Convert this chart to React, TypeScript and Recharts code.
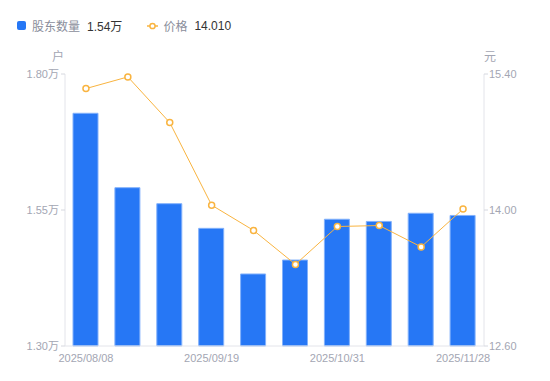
import {
  ComposedChart,
  Bar,
  Line,
  XAxis,
  YAxis,
  Legend,
} from 'recharts';

const dates = [
  '2025/08/08',
  '2025/08/22',
  '2025/09/05',
  '2025/09/19',
  '2025/09/30',
  '2025/10/17',
  '2025/10/31',
  '2025/11/10',
  '2025/11/20',
  '2025/11/28',
];
// 股东数量 (户)
const holders = [17278, 15910, 15616, 15163, 14324, 14580, 15330, 15290, 15440, 15400];
// 价格 (元)
const prices = [15.25, 15.37, 14.9, 14.05, 13.79, 13.44, 13.83, 13.84, 13.62, 14.01];

const leftTicks = [13000, 15500, 18000];
const rightTicks = [12.6, 14.0, 15.4];

const data = dates.map((d, i) => ({ date: d, holders: holders[i], price: prices[i] }));

const BLUE = '#2677f5';
const ORANGE = '#f9b440';
const FONT = '"Liberation Sans", "Noto Sans CJK SC", sans-serif';

const fmtWan = (v: number) => (v / 10000).toFixed(2) + '万';

const LegendBox = () => {
  const last = data[data.length - 1];
  return (
    <div style={{ display: 'flex', alignItems: 'center', fontSize: 12, fontFamily: FONT }}>
      <span style={{ width: 9, height: 9, background: BLUE, borderRadius: 2, marginRight: 6 }} />
      <span style={{ color: '#8a8e9b' }}>股东数量</span>
      <span style={{ color: '#333', marginLeft: 7 }}>{fmtWan(last.holders)}</span>
      <svg width={11} height={10} style={{ marginLeft: 25, marginRight: 5 }}>
        <line x1={0} y1={5} x2={11} y2={5} stroke={ORANGE} strokeWidth={1.5} />
        <circle cx={5.5} cy={5} r={2.6} fill="#fff" stroke={ORANGE} strokeWidth={1.5} />
      </svg>
      <span style={{ color: '#8a8e9b' }}>价格</span>
      <span style={{ color: '#333', marginLeft: 7 }}>{last.price.toFixed(3)}</span>
    </div>
  );
};

const App = () => {
  return (
    <div style={{ position: 'absolute', left: 0, top: 0 }}>
      <ComposedChart
        width={550}
        height={381}
        data={data}
        margin={{ top: 74, right: 8, bottom: 5, left: 5 }}
        barSize={25}
      >
        <Legend
          verticalAlign="middle"
          align="center"
          content={() => <LegendBox />}
          wrapperStyle={{ top: 17, left: 17, width: 300 }}
        />
        <XAxis
          dataKey="date"
          interval={2}
          height={30}
          tickLine={false}
          tickSize={6}
          axisLine={{ stroke: '#e3e4ea' }}
          tick={{ fill: '#a3a6b3', fontSize: 11, fontFamily: FONT }}
        />
        <YAxis
          yAxisId="left"
          width={60}
          domain={[13000, 18000]}
          ticks={leftTicks}
          tickFormatter={fmtWan}
          tickSize={4}
          tickMargin={2}
          axisLine={{ stroke: '#e3e4ea' }}
          tickLine={{ stroke: '#d6d8df' }}
          tick={{ fill: '#a3a6b3', fontSize: 11, fontFamily: FONT }}
          label={{
            content: ({ viewBox }: any) => (
              <text
                x={viewBox.x + viewBox.width - 7}
                y={viewBox.y - 13}
                textAnchor="middle"
                fill="#a3a6b3"
                fontSize={12}
                fontFamily={FONT}
              >
                户
              </text>
            ),
          }}
        />
        <YAxis
          yAxisId="right"
          orientation="right"
          width={58}
          domain={[12.6, 15.4]}
          ticks={rightTicks}
          tickFormatter={(v: number) => v.toFixed(2)}
          tickSize={4}
          tickMargin={1}
          axisLine={{ stroke: '#e3e4ea' }}
          tickLine={{ stroke: '#d6d8df' }}
          tick={{ fill: '#a3a6b3', fontSize: 11, fontFamily: FONT }}
          label={{
            content: ({ viewBox }: any) => (
              <text
                x={viewBox.x + 6}
                y={viewBox.y - 13}
                textAnchor="middle"
                fill="#a3a6b3"
                fontSize={12}
                fontFamily={FONT}
              >
                元
              </text>
            ),
          }}
        />
        <Bar
          yAxisId="left"
          dataKey="holders"
          fill={BLUE}
          stroke="#82b1fb"
          strokeWidth={1}
          isAnimationActive={false}
        />
        <Line
          yAxisId="right"
          dataKey="price"
          type="linear"
          stroke={ORANGE}
          strokeWidth={1}
          dot={{ r: 3, fill: '#fff', stroke: ORANGE, strokeWidth: 1.5 }}
          activeDot={false}
          isAnimationActive={false}
        />
      </ComposedChart>
    </div>
  );
};

export default App;
